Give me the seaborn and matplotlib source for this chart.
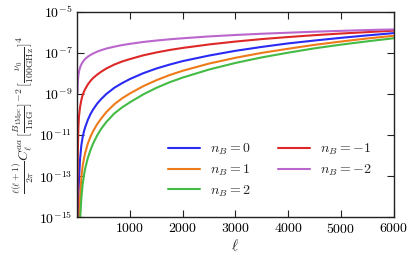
import matplotlib
matplotlib.use("Agg")
import matplotlib.pyplot as plt
import numpy as np
import pandas as pd
import seaborn as sns

# multipole grid and log10 of the curves
ell = [2, 5, 10, 20, 30, 50, 75, 100, 125, 150, 200, 250, 300, 375, 450, 550, 700, 850,
       1000, 1250, 1500, 1750, 2000, 2500, 3000, 3500, 4000, 4500, 5000, 5500, 6000]
log_nb0 = [-17.0, -16.3, -15.5, -14.0, -13.2, -12.2, -11.5, -11.1, -10.82, -10.6, -10.25, -9.97,
           -9.75, -9.47, -9.25, -9.0, -8.7, -8.47, -8.27, -7.99, -7.76, -7.57, -7.4, -7.13,
           -6.9, -6.71, -6.54, -6.4, -6.27, -6.15, -6.04]
log_nb1 = [-18.0, -17.5, -17.0, -16.3, -15.5, -14.1, -13.1, -12.5, -12.14, -11.85, -11.4, -11.07,
           -10.8, -10.47, -10.2, -9.88, -9.5, -9.21, -8.97, -8.62, -8.33, -8.08, -7.87, -7.52,
           -7.24, -7.0, -6.8, -6.61, -6.45, -6.3, -6.17]
log_nb2 = [-19.0, -18.0, -17.5, -16.8, -16.2, -15.2, -14.1, -13.4, -12.96, -12.6, -12.1, -11.72,
           -11.4, -11.02, -10.7, -10.36, -9.95, -9.65, -9.4, -9.02, -8.7, -8.43, -8.2, -7.81,
           -7.49, -7.22, -6.99, -6.78, -6.6, -6.44, -6.29]
log_nbm1 = [-15.5, -12.8, -11.6, -10.6, -10.1, -9.65, -9.3, -9.05, -8.89, -8.75, -8.53, -8.36,
            -8.22, -8.06, -7.92, -7.76, -7.57, -7.42, -7.3, -7.12, -6.98, -6.86, -6.76, -6.59,
            -6.45, -6.33, -6.23, -6.14, -6.06, -5.99, -5.92]
log_nbm2 = [-8.95, -8.6, -8.35, -8.08, -7.92, -7.72, -7.56, -7.45, -7.36, -7.29, -7.18, -7.1,
            -7.03, -6.94, -6.87, -6.79, -6.7, -6.62, -6.56, -6.47, -6.4, -6.34, -6.29, -6.2,
            -6.13, -6.07, -6.02, -5.97, -5.93, -5.89, -5.86]

labels = ["$n_B = 0$", "$n_B = 1$", "$n_B = 2$", "$n_B = -1$", "$n_B = -2$"]
colors = ["#2a2af5", "#ee7a1a", "#44bb44", "#dd2828", "#bb66cc"]

sns.set_theme(style="ticks")
plt.rcParams["font.family"] = "serif"
plt.rcParams["font.serif"] = ["cmr10"]
plt.rcParams["mathtext.fontset"] = "cm"
plt.rcParams["axes.formatter.use_mathtext"] = True
plt.rcParams["axes.unicode_minus"] = True

frames = []
for lab, vals in zip(labels, [log_nb0, log_nb1, log_nb2, log_nbm1, log_nbm2]):
    frames.append(pd.DataFrame({"ell": ell, "cl": 10.0 ** np.array(vals), "model": lab}))
df = pd.concat(frames, ignore_index=True)

fig = plt.figure(figsize=(4.16, 2.67), dpi=100)
ax = fig.add_axes([0.186, 0.186, 0.760, 0.770])
sns.lineplot(data=df, x="ell", y="cl", hue="model", hue_order=labels,
             palette=dict(zip(labels, colors)), estimator=None, sort=False,
             linewidth=1.5, ax=ax)
ax.set_yscale("log")
ax.set_xlim(0, 6000)
ax.set_ylim(1e-15, 1e-5)
ax.set_xticks([1000, 2000, 3000, 4000, 5000, 6000])
ax.set_yticks([1e-15, 1e-13, 1e-11, 1e-9, 1e-7, 1e-5])
ax.minorticks_off()
ax.tick_params(direction="in", top=True, right=True, length=5, width=0.8,
               labelsize=10, colors="#222222", labelcolor="black")
for sp in ax.spines.values():
    sp.set_linewidth(1.0)
    sp.set_color("#222222")
ax.set_xlabel(r"$\ell$", fontsize=11, labelpad=1)
ax.set_ylabel(r"$\frac{\ell(\ell+1)}{2\pi}C_\ell^{aa}\,[\frac{B_{1{\rm Mpc}}}{1{\rm nG}}]^{-2}\,[\frac{\nu_0}{100{\rm GHz}}]^4$",
              fontsize=10, labelpad=2)
sns.move_legend(ax, "lower right", bbox_to_anchor=(0.97, 0.03), ncol=2, title=None,
                frameon=False, fontsize=10, handlelength=2.3, handletextpad=0.7,
                columnspacing=2.0, labelspacing=0.4)
fig.savefig("out.png", dpi=100)
